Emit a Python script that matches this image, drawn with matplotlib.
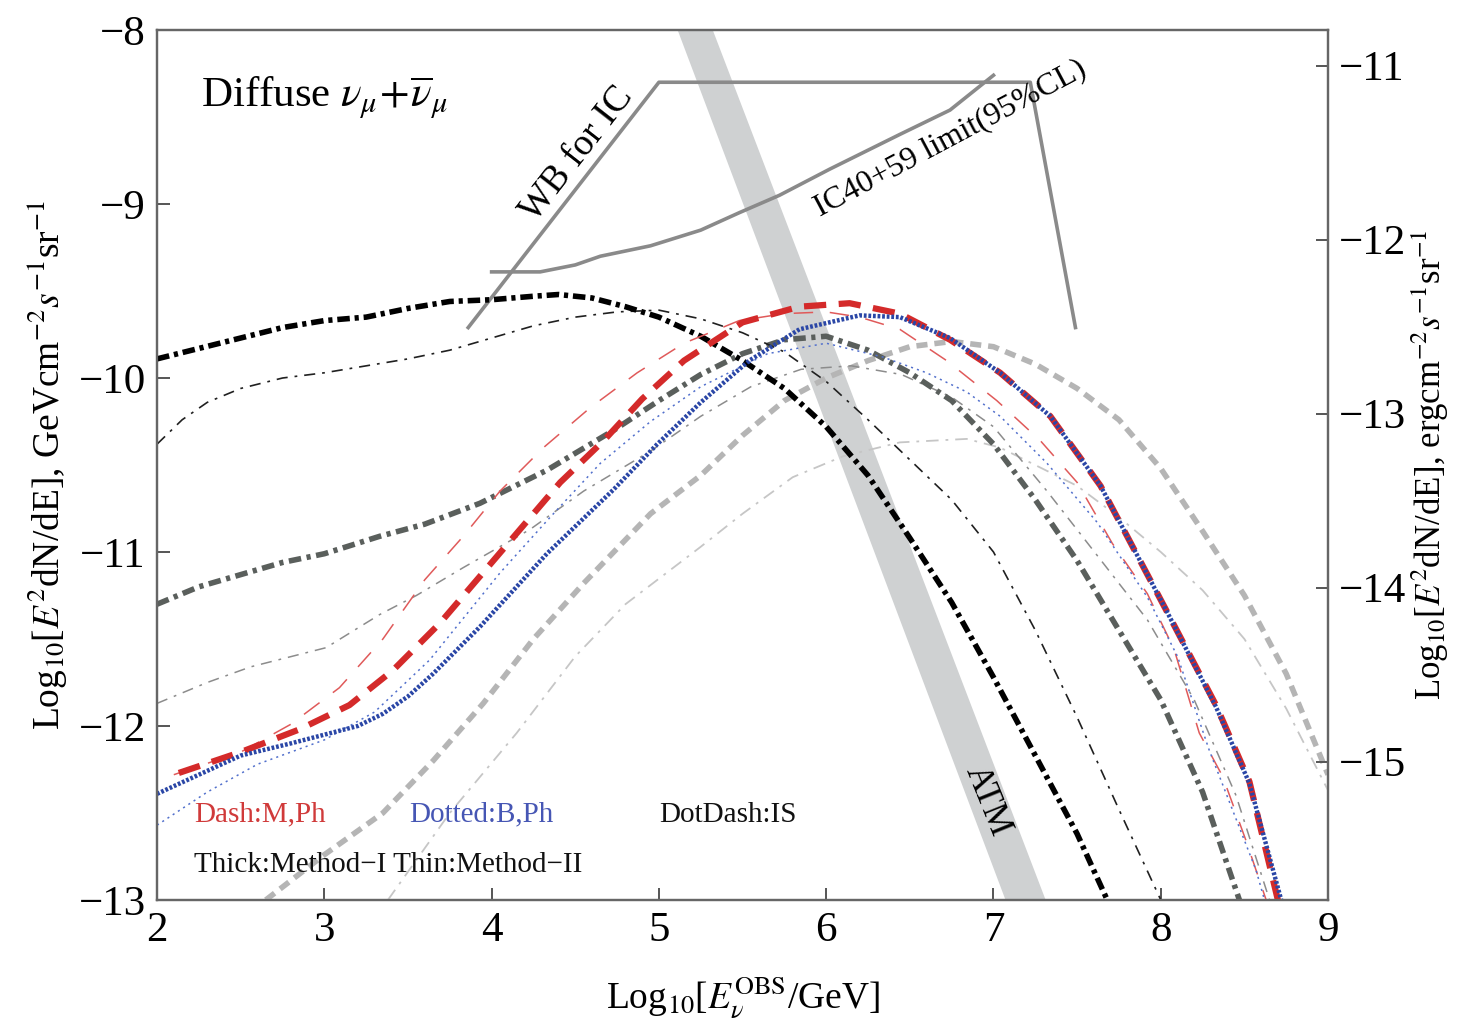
import numpy as np
import matplotlib.pyplot as plt

plt.rcParams['font.family'] = 'serif'
plt.rcParams['font.serif'] = ['Liberation Serif', 'DejaVu Serif']
plt.rcParams['mathtext.fontset'] = 'stix'
plt.rcParams['lines.scale_dashes'] = False

# log10(E/GeV) vs log10(E^2 dN/dE) for each model
is1_x = [2.0, 2.25, 2.5, 2.75, 3.0, 3.25, 3.5, 3.75, 4.0, 4.25, 4.4, 4.6, 4.8, 5.0, 5.25, 5.5,
         5.75, 6.0, 6.25, 6.5, 6.75, 7.0, 7.25, 7.5, 7.68]
is1_y = [-9.89, -9.83, -9.77, -9.71, -9.67, -9.65, -9.60, -9.56, -9.55, -9.53, -9.52, -9.54, -9.59,
         -9.65, -9.76, -9.90, -10.06, -10.28, -10.56, -10.92, -11.29, -11.72, -12.17, -12.62, -13.0]

is2_x = [2.0, 2.15, 2.3, 2.5, 2.75, 3.0, 3.25, 3.5, 3.75, 4.0, 4.25, 4.5, 4.75, 5.0, 5.25, 5.5,
         5.75, 6.0, 6.25, 6.5, 6.75, 7.0, 7.25, 7.5, 7.75, 8.0]
is2_y = [-10.38, -10.24, -10.14, -10.06, -10.0, -9.97, -9.93, -9.89, -9.84, -9.77, -9.70, -9.65,
         -9.62, -9.61, -9.66, -9.74, -9.85, -10.02, -10.24, -10.47, -10.70, -11.0, -11.45, -11.95,
         -12.48, -13.0]

g1_x = [2.0, 2.25, 2.5, 2.75, 3.0, 3.33, 3.6, 3.93, 4.33, 4.73, 5.0, 5.25, 5.5, 5.75, 6.0, 6.25,
        6.5, 6.75, 7.0, 7.25, 7.5, 7.75, 8.0, 8.25, 8.47]
g1_y = [-11.30, -11.20, -11.13, -11.06, -11.01, -10.91, -10.84, -10.72, -10.53, -10.30, -10.13,
        -9.98, -9.86, -9.78, -9.76, -9.84, -9.97, -10.13, -10.38, -10.70, -11.05, -11.45, -11.85,
        -12.38, -13.0]

g2_x = [2.0, 2.3, 2.56, 3.01, 3.33, 3.55, 3.83, 4.23, 4.55, 4.95, 5.25, 5.55, 5.85, 6.15, 6.45,
        6.75, 7.0, 7.32, 7.62, 7.92, 8.2, 8.45, 8.65]
g2_y = [-11.87, -11.75, -11.66, -11.55, -11.36, -11.25, -11.09, -10.87, -10.65, -10.42, -10.22,
        -10.05, -9.95, -9.93, -9.98, -10.11, -10.28, -10.65, -11.02, -11.39, -11.85, -12.4, -13.0]

lg1_x = [2.65, 3.0, 3.35, 3.65, 3.95, 4.25, 4.55, 4.95, 5.25, 5.5, 5.75, 6.0, 6.25, 6.5, 6.75,
         7.0, 7.25, 7.5, 7.75, 8.0, 8.25, 8.5, 8.75, 9.0]
lg1_y = [-13.0, -12.74, -12.50, -12.2, -11.87, -11.5, -11.18, -10.78, -10.56, -10.33, -10.13,
         -10.0, -9.90, -9.82, -9.79, -9.82, -9.92, -10.06, -10.24, -10.52, -10.88, -11.25, -11.70,
         -12.28]

lg2_x = [3.38, 3.75, 4.15, 4.5, 4.8, 5.25, 5.5, 5.8, 6.1, 6.44, 6.84, 7.04, 7.5, 7.75, 8.0, 8.25,
         8.5, 8.75, 9.0]
lg2_y = [-13.0, -12.5, -12.04, -11.6, -11.3, -10.97, -10.78, -10.57, -10.45, -10.37, -10.35,
         -10.40, -10.62, -10.80, -11.0, -11.22, -11.5, -11.9, -12.37]

m1_x = [2.13, 2.5, 2.85, 3.15, 3.41, 3.69, 3.93, 4.17, 4.41, 4.67, 4.9, 5.15, 5.5, 5.84, 6.14,
        6.44, 6.74, 7.04, 7.34, 7.64, 8.03, 8.33, 8.53, 8.7]
m1_y = [-12.27, -12.15, -12.02, -11.88, -11.68, -11.41, -11.14, -10.87, -10.60, -10.36, -10.12,
        -9.90, -9.68, -9.59, -9.57, -9.63, -9.78, -9.97, -10.22, -10.62, -11.33, -11.88, -12.32, -13.0]

m2_x = [2.1, 2.5, 2.8, 3.09, 3.35, 3.6, 3.83, 4.05, 4.31, 4.59, 4.87, 5.15, 5.48, 5.75, 6.0, 6.2,
        6.44, 6.72, 7.02, 7.28, 7.5, 7.71, 7.92, 8.08, 8.23, 8.37, 8.51, 8.63]
m2_y = [-12.28, -12.15, -11.99, -11.78, -11.50, -11.16, -10.91, -10.65, -10.40, -10.17, -9.97,
        -9.80, -9.67, -9.63, -9.62, -9.65, -9.72, -9.90, -10.13, -10.36, -10.60, -10.95, -11.24,
        -11.56, -12.04, -12.29, -12.66, -13.0]

b1_x = [2.0, 2.5, 2.8, 3.0, 3.2, 3.35, 3.5, 3.65, 3.93, 4.33, 4.73, 4.99, 5.25, 5.54, 5.84, 6.2,
        6.44, 6.74, 7.04, 7.34, 7.64, 8.03, 8.33, 8.53, 8.72]
b1_y = [-12.39, -12.17, -12.10, -12.05, -12.00, -11.93, -11.83, -11.70, -11.43, -11.01, -10.64,
        -10.38, -10.14, -9.90, -9.72, -9.64, -9.65, -9.77, -9.97, -10.22, -10.62, -11.33, -11.89,
        -12.33, -13.0]

b2_x = [2.0, 2.3, 2.6, 3.0, 3.3, 3.63, 4.05, 4.35, 4.65, 4.95, 5.25, 5.65, 6.0, 6.34, 6.6, 6.84,
        7.04, 7.32, 7.62, 7.92, 8.1, 8.29, 8.57, 8.62]
b2_y = [-12.57, -12.38, -12.22, -12.08, -11.92, -11.62, -11.12, -10.80, -10.49, -10.25, -10.05,
        -9.86, -9.80, -9.88, -9.97, -10.08, -10.22, -10.49, -10.83, -11.26, -11.6, -12.14, -12.83,
        -13.0]

# IceCube limits
wb_x = [3.86, 5.0, 7.22, 7.49]
wb_y = [-9.71, -8.30, -8.30, -9.71]
ic_x = [4.0, 4.29, 4.5, 4.65, 4.95, 5.25, 5.48, 5.72, 6.02, 6.44, 6.74, 7.0]
ic_y = [-9.39, -9.39, -9.35, -9.30, -9.24, -9.15, -9.05, -8.95, -8.80, -8.60, -8.46, -8.26]

# atmospheric band: x edges at the bottom (y=-13) and top (y=-8)
atm_y = [-13.0, -8.0]
atm_lo = [7.07, 5.11]
atm_hi = [7.31, 5.32]

GEV_TO_ERG = np.log10(1.602e-3)

fig = plt.figure(figsize=(14.57, 10.29), dpi=100)
ax = fig.add_axes([0.1078, 0.1254, 0.8037, 0.8454])

ax.fill_betweenx(atm_y, atm_lo, atm_hi, color='#cfd1d2', lw=0, zorder=1)

ax.plot(wb_x, wb_y, color='#8a8a8a', lw=2.6, zorder=2)
ax.plot(ic_x, ic_y, color='#8a8a8a', lw=2.6, zorder=2)

ax.plot(lg2_x, lg2_y, color='#c6c6c6', lw=1.3, dashes=(9, 5, 2, 5), zorder=3)
ax.plot(lg1_x, lg1_y, color='#b5b5b5', lw=4, dashes=(8, 5), zorder=3)
ax.plot(g2_x, g2_y, color='#8c8c8c', lw=1.1, dashes=(8, 5, 2, 5), zorder=3)
ax.plot(g1_x, g1_y, color='#5a5f5c', lw=4, dashes=(9, 4, 3, 4), zorder=3)
ax.plot(is2_x, is2_y, color='#202020', lw=1.2, dashes=(8, 5, 2, 5), zorder=3)
ax.plot(is1_x, is1_y, color='#000000', lw=4, dashes=(9, 3.5, 3, 3.5), zorder=4)
ax.plot(m2_x, m2_y, color='#e05a5a', lw=1.1, dashes=(14, 12), zorder=4)
ax.plot(b2_x, b2_y, color='#5270cc', lw=1.1, dashes=(1.5, 3), zorder=4)
ax.plot(m1_x, m1_y, color='#d42a2a', lw=4.5, dashes=(16, 9), zorder=5)
ax.plot(b1_x, b1_y, color='#2a46a6', lw=3.2, dashes=(2, 1.3), zorder=6)

ax.set_xlim(2, 9)
ax.set_ylim(-13, -8)
ax.set_xticks(range(2, 10))
ax.set_yticks(range(-13, -7))

ax2 = ax.twinx()
ax2.set_ylim(-13 + GEV_TO_ERG, -8 + GEV_TO_ERG)
ax2.set_yticks(range(-15, -10))

for a in (ax, ax2):
    for sp in a.spines.values():
        sp.set_color('#666666')
        sp.set_linewidth(1.6)
    a.tick_params(direction='in', length=9, width=1.4, color='#555555', labelsize=31, pad=8)
ax.tick_params(top=False, right=False)
ax2.tick_params(left=False)

ax.set_xlabel(r'Log$_{10}$[$E_{\nu}^{\rm OBS}$/GeV]', fontsize=27, labelpad=18)
ax.set_ylabel(r'Log$_{10}$[$E^2$dN/dE], GeVcm$^{-2}$$s^{-1}$sr$^{-1}$', fontsize=27, labelpad=6)
ax2.set_ylabel(r'Log$_{10}$[$E^2$dN/dE], ergcm$^{-2}$$s^{-1}$sr$^{-1}$', fontsize=25, labelpad=2)

ax.text(2.26, -8.39, r'Diffuse $\nu_{\mu}\!+\!\overline{\nu}_{\mu}$', fontsize=31, va='center', zorder=7)
ax.text(4.51, -8.71, 'WB for IC', fontsize=27, rotation=52, ha='center', va='center',
        rotation_mode='anchor', zorder=7)
ax.text(6.74, -8.62, 'IC40+59 limit(95%CL)', fontsize=23, rotation=28, ha='center', va='center',
        rotation_mode='anchor', zorder=7)
ax.text(6.96, -12.43, 'ATM', fontsize=25, rotation=-68, ha='center', va='center',
        rotation_mode='anchor', zorder=7)

ax.text(2.22, -12.51, 'Dash:M,Ph', color='#d03a3a', fontsize=21, va='center', zorder=7)
ax.text(3.51, -12.51, 'Dotted:B,Ph', color='#4656b4', fontsize=21, va='center', zorder=7)
ax.text(5.0, -12.51, 'DotDash:IS', color='#111111', fontsize=21, va='center', zorder=7)
ax.text(2.22, -12.80, 'Thick:Method\u2212I Thin:Method\u2212II', color='#111111', fontsize=21,
        va='center', zorder=7)

fig.savefig('out.png', dpi=100)
